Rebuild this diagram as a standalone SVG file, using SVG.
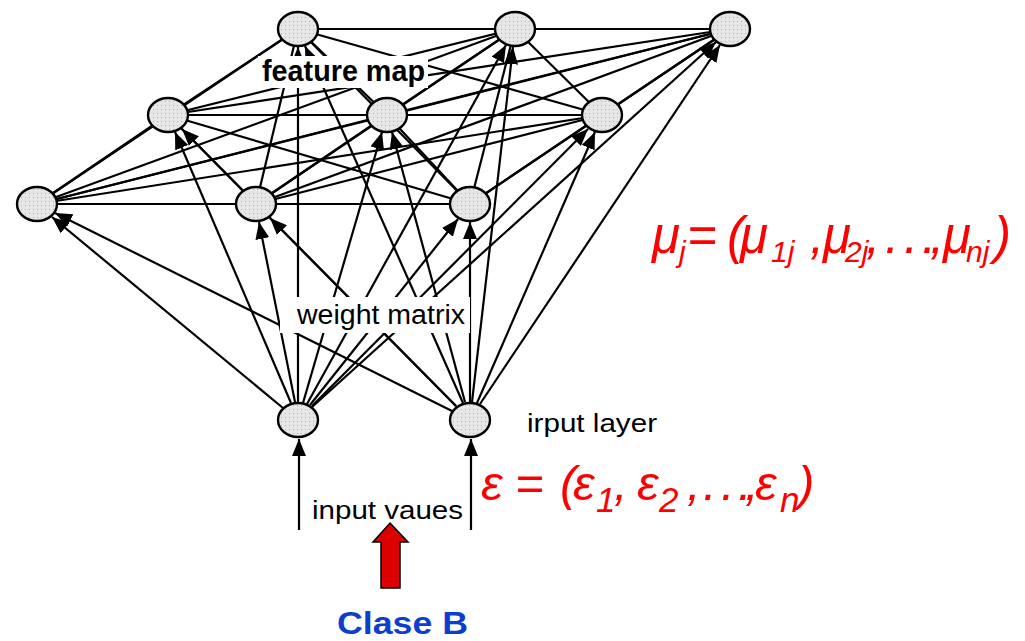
<svg xmlns="http://www.w3.org/2000/svg" width="1025" height="641" viewBox="0 0 1025 641">
<style>
.ln{stroke:#000;stroke-width:2.2;fill:none}
.ar{stroke:#000;stroke-width:2.2;fill:none;marker-end:url(#ah)}
.node{fill:url(#stip);stroke:#000;stroke-width:2.4}
.lbl{font-family:"Liberation Sans",Arial,sans-serif;fill:#000}
.red{font-family:"Liberation Sans",Arial,sans-serif;font-style:italic;fill:#ff0000}
.bg{fill:#fff}
</style>
<defs>
<pattern id="stip" width="4" height="4" patternUnits="userSpaceOnUse">
<rect width="4" height="4" fill="#e6e6e6"/>
<rect x="1" y="1" width="1" height="1" fill="#b5b5b5"/>
</pattern>
<marker id="ah" viewBox="0 0 17 14" refX="17" refY="7" markerWidth="17" markerHeight="14" markerUnits="userSpaceOnUse" orient="auto">
<path d="M0,0 L17,7 L0,14 z" fill="#000"/>
</marker>
</defs>
<rect width="1025" height="641" fill="#fff"/>

<g id="lateral-connectors">
<line class="ln" x1="298" y1="29" x2="730" y2="29"/>
<line class="ln" x1="168" y1="115" x2="602" y2="115"/>
<line class="ln" x1="37" y1="204" x2="470" y2="204"/>
<line class="ln" x1="298" y1="29" x2="168" y2="115"/>
<line class="ln" x1="298" y1="29" x2="387" y2="115"/>
<line class="ln" x1="298" y1="29" x2="602" y2="115"/>
<line class="ln" x1="515" y1="29" x2="168" y2="115"/>
<line class="ln" x1="515" y1="29" x2="387" y2="115"/>
<line class="ln" x1="515" y1="29" x2="602" y2="115"/>
<line class="ln" x1="730" y1="29" x2="168" y2="115"/>
<line class="ln" x1="730" y1="29" x2="387" y2="115"/>
<line class="ln" x1="730" y1="29" x2="602" y2="115"/>
<line class="ln" x1="298" y1="29" x2="37" y2="204"/>
<line class="ln" x1="298" y1="29" x2="256" y2="204"/>
<line class="ln" x1="298" y1="29" x2="470" y2="204"/>
<line class="ln" x1="515" y1="29" x2="37" y2="204"/>
<line class="ln" x1="515" y1="29" x2="256" y2="204"/>
<line class="ln" x1="515" y1="29" x2="470" y2="204"/>
<line class="ln" x1="730" y1="29" x2="37" y2="204"/>
<line class="ln" x1="730" y1="29" x2="256" y2="204"/>
<line class="ln" x1="730" y1="29" x2="470" y2="204"/>
<line class="ln" x1="168" y1="115" x2="37" y2="204"/>
<line class="ln" x1="168" y1="115" x2="256" y2="204"/>
<line class="ln" x1="168" y1="115" x2="470" y2="204"/>
<line class="ln" x1="387" y1="115" x2="37" y2="204"/>
<line class="ln" x1="387" y1="115" x2="256" y2="204"/>
<line class="ln" x1="387" y1="115" x2="470" y2="204"/>
<line class="ln" x1="602" y1="115" x2="37" y2="204"/>
<line class="ln" x1="602" y1="115" x2="256" y2="204"/>
<line class="ln" x1="602" y1="115" x2="470" y2="204"/>
</g>

<g id="weight-connectors">
<line class="ar" x1="298" y1="402" x2="298" y2="47"/>
<line class="ar" x1="307" y1="404" x2="506" y2="45"/>
<line class="ar" x1="312" y1="407" x2="716" y2="42"/>
<line class="ar" x1="291" y1="403" x2="175" y2="132"/>
<line class="ar" x1="303" y1="403" x2="382" y2="132"/>
<line class="ar" x1="312" y1="406" x2="588" y2="129"/>
<line class="ar" x1="283" y1="408" x2="52" y2="217"/>
<line class="ar" x1="295" y1="402" x2="259" y2="222"/>
<line class="ar" x1="310" y1="405" x2="458" y2="219"/>
<line class="ar" x1="463" y1="403" x2="305" y2="46"/>
<line class="ar" x1="472" y1="402" x2="513" y2="47"/>
<line class="ar" x1="480" y1="404" x2="720" y2="45"/>
<line class="ar" x1="456" y1="406" x2="182" y2="129"/>
<line class="ar" x1="465" y1="402" x2="392" y2="132"/>
<line class="ar" x1="477" y1="403" x2="595" y2="132"/>
<line class="ar" x1="452" y1="411" x2="55" y2="213"/>
<line class="ar" x1="456" y1="406" x2="270" y2="218"/>
<line class="ar" x1="470" y1="402" x2="470" y2="222"/>
</g>

<g id="input-connectors">
<line class="ar" x1="299" y1="530" x2="299" y2="439"/>
<line class="ar" x1="471" y1="530" x2="471" y2="439"/>
</g>

<g id="label-feature-map">
<rect class="bg" x="258" y="56" width="170" height="32"/>
<text class="lbl" x="262" y="81" font-size="29" font-weight="bold" textLength="163" lengthAdjust="spacingAndGlyphs">feature map</text>
</g>
<g id="label-weight-matrix">
<rect class="bg" x="280" y="297" width="190" height="36"/>
<text class="lbl" x="297" y="324" font-size="27" textLength="168" lengthAdjust="spacingAndGlyphs">weight matrix</text>
</g>

<g id="node-f1"><ellipse class="node" cx="298" cy="29" rx="20" ry="17"/></g>
<g id="node-f2"><ellipse class="node" cx="515" cy="29" rx="20" ry="17"/></g>
<g id="node-f3"><ellipse class="node" cx="730" cy="29" rx="20" ry="17"/></g>
<g id="node-f4"><ellipse class="node" cx="168" cy="115" rx="20" ry="17"/></g>
<g id="node-f5"><ellipse class="node" cx="387" cy="115" rx="20" ry="17"/></g>
<g id="node-f6"><ellipse class="node" cx="602" cy="115" rx="20" ry="17"/></g>
<g id="node-f7"><ellipse class="node" cx="37" cy="204" rx="20" ry="17"/></g>
<g id="node-f8"><ellipse class="node" cx="256" cy="204" rx="20" ry="17"/></g>
<g id="node-f9"><ellipse class="node" cx="470" cy="204" rx="20" ry="17"/></g>
<g id="node-i1"><ellipse class="node" cx="298" cy="420" rx="20" ry="17"/></g>
<g id="node-i2"><ellipse class="node" cx="470" cy="420" rx="20" ry="17"/></g>

<g id="label-input-layer">
<text class="lbl" x="527" y="432" font-size="26" textLength="130" lengthAdjust="spacingAndGlyphs">irput layer</text>
</g>
<g id="label-input-values">
<text class="lbl" x="312" y="519" font-size="26" textLength="151" lengthAdjust="spacingAndGlyphs">input vaues</text>
</g>

<g id="class-arrow">
<path d="M390,523 L408,542 L400,542 L400,588 L381,588 L381,542 L373,542 Z" fill="#dd0000" stroke="#000" stroke-width="1.5"/>
</g>
<g id="label-clase-b">
<text x="337" y="634" font-family="'Liberation Sans',Arial,sans-serif" font-weight="bold" font-size="32" fill="#0d3fcf" textLength="131" lengthAdjust="spacingAndGlyphs">Clase B</text>
</g>

<g id="formula-mu">
<text class="red" font-size="51">
<tspan x="652" y="253">μ</tspan>
<tspan x="679" y="262" font-size="30">j</tspan>
<tspan x="687" y="253">=</tspan>
<tspan x="727" y="253">(</tspan>
<tspan x="740" y="253">μ</tspan>
<tspan x="771" y="262" font-size="30">1j</tspan>
<tspan x="810" y="253">,</tspan>
<tspan x="823" y="253">μ</tspan>
<tspan x="845" y="262" font-size="30">2j</tspan>
<tspan x="866" y="253">,</tspan>
<tspan x="885" y="253">.</tspan>
<tspan x="904" y="253">.</tspan>
<tspan x="922" y="253">.</tspan>
<tspan x="930" y="253">,</tspan>
<tspan x="943" y="253">μ</tspan>
<tspan x="966" y="262" font-size="30">nj</tspan>
<tspan x="994" y="253">)</tspan>
</text>
</g>

<g id="formula-epsilon">
<text class="red" font-size="49">
<tspan x="481" y="500">ε</tspan>
<tspan x="515" y="500">=</tspan>
<tspan x="560" y="500">(</tspan>
<tspan x="573" y="500">ε</tspan>
<tspan x="596" y="512" font-size="35">1</tspan>
<tspan x="614" y="500">,</tspan>
<tspan x="637" y="500">ε</tspan>
<tspan x="659" y="512" font-size="35">2</tspan>
<tspan x="687" y="500">,</tspan>
<tspan x="703" y="500">.</tspan>
<tspan x="721" y="500">.</tspan>
<tspan x="738" y="500">.</tspan>
<tspan x="745" y="500">,</tspan>
<tspan x="755" y="500">ε</tspan>
<tspan x="780" y="512" font-size="35">n</tspan>
<tspan x="798" y="500">)</tspan>
</text>
</g>
</svg>
